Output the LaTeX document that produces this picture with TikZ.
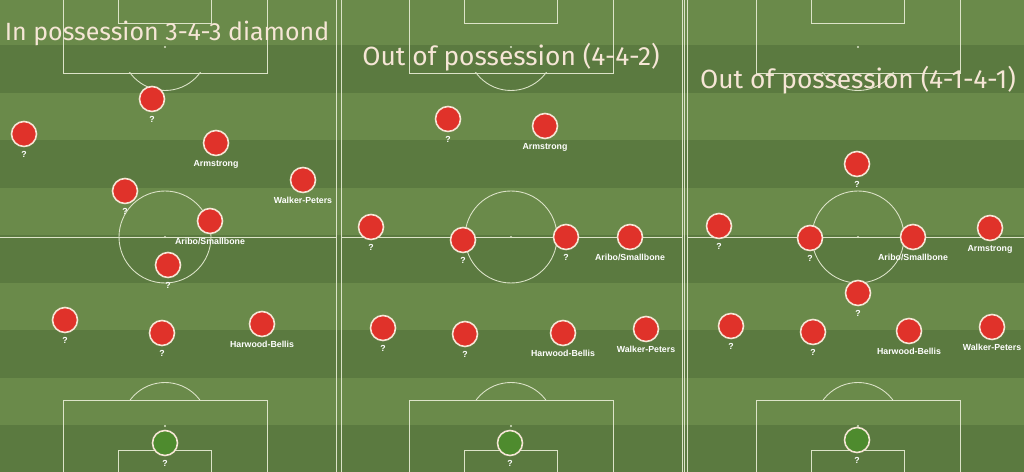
\documentclass[tikz,border=0pt]{standalone}
\usepackage{fontspec}
\setmainfont{Fira Sans}
\newfontfamily\tagfont{Liberation Sans}
\usetikzlibrary{positioning}

\definecolor{grassA}{HTML}{6A8A4A}
\definecolor{grassB}{HTML}{5B7A40}
\definecolor{chalk}{HTML}{DCE3C8}
\definecolor{shirt}{HTML}{E0322A}
\definecolor{keeper}{HTML}{4E8B2E}
\definecolor{rim}{HTML}{F6E6D6}

\tikzset{
  player/.style={circle, fill=shirt, draw=rim, line width=0.9pt, minimum size=0.5cm, inner sep=0pt},
  goalie/.style={player, fill=keeper},
  tag/.style={font=\tagfont\bfseries\fontsize{5}{6}\selectfont, text=white, inner sep=0pt},
  title/.style={font=\fontsize{15}{17}\selectfont, text=rim},
  chalkline/.style={draw=chalk, line width=0.5pt}
}

\begin{document}
\begin{tikzpicture}[x=0.02cm, y=-0.02cm]
  \useasboundingbox (0,0) rectangle (1024,472);

  % 草皮条纹
  \foreach \i in {0,...,9} {
    \pgfmathsetmacro{\top}{-2+47.5*\i}
    \ifodd\i
      \fill[grassB] (0,\top) rectangle (1024,\top+47.5);
    \else
      \fill[grassA] (0,\top) rectangle (1024,\top+47.5);
    \fi
  }

  % 三块球场的白线:中线、中圈、禁区、小禁区、罚球点
  \foreach \c/\l/\r in {165/-6/336, 511/341/682, 858/687/1030} {
    \draw[chalkline] (\l,-5) -- (\l,477);
    \draw[chalkline] (\r,-5) -- (\r,477);
    \draw[chalkline] (\l,237) -- (\r,237);
    \draw[chalkline] (\c,237) circle [radius=0.92cm];
    \fill[chalk] (\c,237) circle (0.6pt);
    \draw[chalkline] ({\c-102},-5) rectangle ({\c+102},73);
    \draw[chalkline] ({\c-46.5},-5) rectangle ({\c+46.5},23);
    \draw[chalkline] ({\c-102},477) rectangle ({\c+102},400);
    \draw[chalkline] ({\c-46.5},477) rectangle ({\c+46.5},450);
    \fill[chalk] (\c,47) circle (0.6pt);
    \fill[chalk] (\c,426) circle (0.6pt);
    % 禁区弧
    \begin{scope}
      \clip ({\c-102},73) rectangle ({\c+102},150);
      \draw[chalkline] (\c,47) circle [radius=0.87cm];
    \end{scope}
    \begin{scope}
      \clip ({\c-102},400) rectangle ({\c+102},320);
      \draw[chalkline] (\c,426) circle [radius=0.87cm];
    \end{scope}
  }
  \draw[chalkline] (684.5,-5) -- (684.5,477);

  % 标题
  \node[title, font=\fontsize{14.2}{16}\selectfont] (t1) at (167,33) {In possession 3-4-3 diamond};
  \node[title] (t2) at (511,57) {Out of possession (4-4-2)};
  \node[title] (t3) at (858,80) {Out of possession (4-1-4-1)};

  % 场上球员
  \foreach \n/\x/\y/\t in {
      l1/152/99/?, l2/24/134/?, l3/216/143/Armstrong, l4/303/180/Walker-Peters,
      l5/125/191/?, l6/210/221/{Aribo/Smallbone}, l7/168/265/?, l8/65/320/?,
      l9/162/333/?, l10/262/324/Harwood-Bellis,
      m1/448/119/?, m2/545/126/Armstrong, m3/371/227/?, m4/463/240/?,
      m5/566/237/?, m6/630/237/{Aribo/Smallbone}, m7/383/328/?, m8/465/334/?,
      m9/563/333/Harwood-Bellis, m10/646/329/Walker-Peters,
      r1/857/164/?, r2/719/226/?, r3/810/238/?, r4/913/237/{Aribo/Smallbone},
      r5/990/228/Armstrong, r6/858/293/?, r7/731/326/?, r8/813/332/?,
      r9/909/331/Harwood-Bellis, r10/992/327/Walker-Peters} {
    \node[player] (\n) at (\x,\y) {};
    \node[tag, below=2.2pt of \n] (\n-t) {\t};
  }

  % 守门员
  \foreach \n/\x/\y in {g1/165/443, g2/510/443, g3/857/440} {
    \node[goalie] (\n) at (\x,\y) {};
    \node[tag, below=2.2pt of \n] (\n-t) {?};
  }

\end{tikzpicture}
\end{document}
